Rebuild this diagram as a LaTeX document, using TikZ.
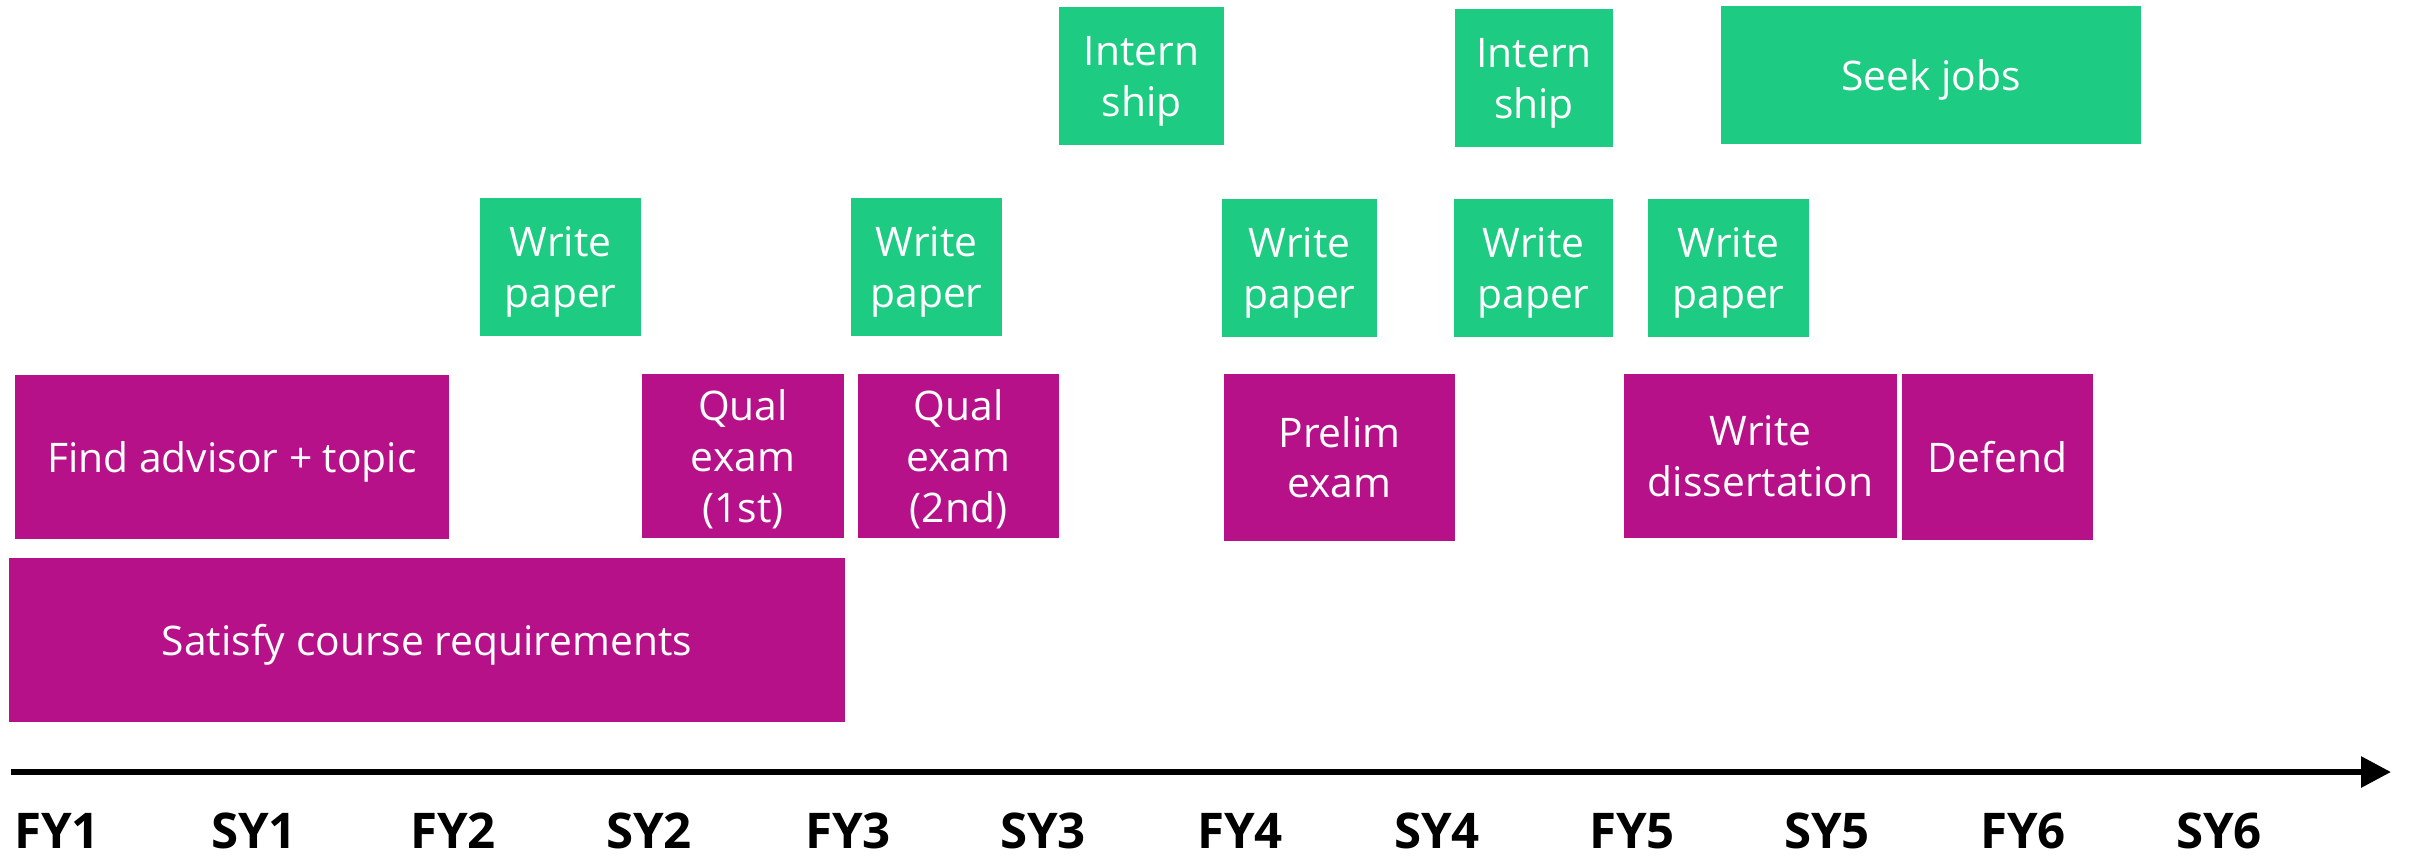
\documentclass[tikz,border=0pt]{standalone}
\usepackage{fontspec}
\setmainfont{Open Sans}
\usepackage{tikz}
\usetikzlibrary{arrows.meta}

\definecolor{phdmag}{RGB}{183,17,138}
\definecolor{phdgrn}{RGB}{30,203,130}

\begin{document}
\begin{tikzpicture}[
  every node/.style={outer sep=0pt, inner sep=0pt, align=center},
  task/.style={text=white, font=\fontsize{11.6}{14.5}\selectfont, text depth=-0.8pt},
  milestone/.style={task, fill=phdmag, minimum height=1.64cm},
  side/.style={task, fill=phdgrn, minimum height=1.38cm},
  yearlabel/.style={font=\fontsize{14}{16}\selectfont\bfseries}]
\useasboundingbox (0,0) rectangle (24.10,-8.56);

% required milestones
\node[milestone, minimum width=4.34cm] (advisor) at (2.32,-4.565) {Find advisor + topic};
\node[milestone, minimum width=8.36cm] (courses) at (4.27,-6.395) {Satisfy course requirements};
\node[milestone, minimum width=2.02cm] (qualA) at (7.43,-4.56) {Qual\\exam\\(1st)};
\node[milestone, minimum width=2.01cm] (qualB) at (9.585,-4.56) {Qual\\exam\\(2nd)};
\node[milestone, minimum width=2.31cm, minimum height=1.67cm] (prelim) at (13.395,-4.57) {Prelim\\exam};
\node[milestone, minimum width=2.73cm] (thesis) at (17.605,-4.56) {Write\\dissertation};
\node[milestone, minimum width=1.91cm, minimum height=1.66cm] (defend) at (19.975,-4.565) {Defend};

% papers, internships, jobs
\node[side, minimum width=1.61cm] (paperA) at (5.605,-2.67) {Write\\paper};
\node[side, minimum width=1.51cm] (paperB) at (9.265,-2.67) {Write\\paper};
\node[side, minimum width=1.55cm] (paperC) at (12.995,-2.68) {Write\\paper};
\node[side, minimum width=1.59cm] (paperD) at (15.335,-2.68) {Write\\paper};
\node[side, minimum width=1.61cm] (paperE) at (17.285,-2.68) {Write\\paper};
\node[side, minimum width=1.65cm] (internA) at (11.415,-0.76) {Intern\\ship};
\node[side, minimum width=1.58cm] (internB) at (15.34,-0.78) {Intern\\ship};
\node[side, minimum width=4.20cm] (jobs) at (19.31,-0.75) {Seek jobs};

% time axis
\coordinate (axisL) at (0.11,-7.72);
\coordinate (axisR) at (23.91,-7.72);
\draw[line width=0.06cm, -{Triangle[length=0.3cm,width=0.3cm]}] (axisL) -- (axisR);

\node[yearlabel] (fy1) at (0.57,-8.31) {FY1};
\node[yearlabel] (sy1) at (2.54,-8.31) {SY1};
\node[yearlabel] (fy2) at (4.53,-8.31) {FY2};
\node[yearlabel] (sy2) at (6.49,-8.31) {SY2};
\node[yearlabel] (fy3) at (8.48,-8.31) {FY3};
\node[yearlabel] (sy3) at (10.43,-8.31) {SY3};
\node[yearlabel] (fy4) at (12.40,-8.31) {FY4};
\node[yearlabel] (sy4) at (14.37,-8.31) {SY4};
\node[yearlabel] (fy5) at (16.32,-8.31) {FY5};
\node[yearlabel] (sy5) at (18.27,-8.31) {SY5};
\node[yearlabel] (fy6) at (20.23,-8.31) {FY6};
\node[yearlabel] (sy6) at (22.19,-8.31) {SY6};
\end{tikzpicture}
\end{document}
